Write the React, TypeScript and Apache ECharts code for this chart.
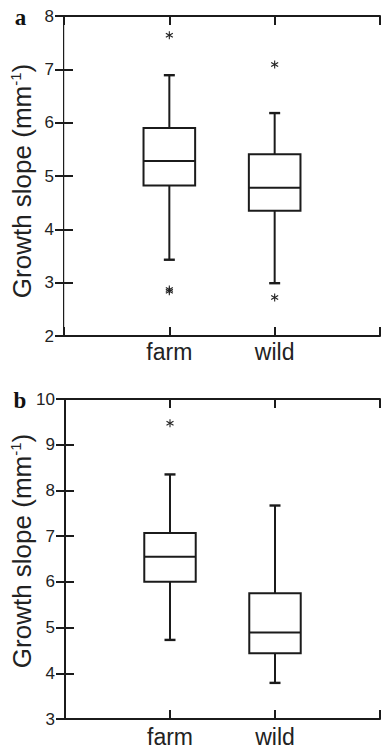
import React, { useEffect, useRef } from "react";
import * as echarts from "echarts";

// ---- data ----
const categories = ["farm", "wild"];
// [lower whisker, Q1, median, Q3, upper whisker]
const panelABoxes = [
  [3.43, 4.82, 5.28, 5.9, 6.89],
  [2.99, 4.35, 4.78, 5.41, 6.18],
];
const panelAOutliers: [string, number][] = [
  ["farm", 7.64],
  ["farm", 2.87],
  ["farm", 2.84],
  ["wild", 7.09],
  ["wild", 2.72],
];
const panelBBoxes = [
  [4.73, 6.0, 6.55, 7.07, 8.35],
  [3.79, 4.44, 4.89, 5.75, 7.67],
];
const panelBOutliers: [string, number][] = [["farm", 9.47]];
const panelAYRange = [2, 8];
const panelBYRange = [3, 10];
const yTitle = "Growth slope (mm{sup|-1})";
const panelLabels = ["a", "b"];

const INK = "#1b1b1b";
const SANS = "'Liberation Sans', Arial, Helvetica, sans-serif";
const SERIF = "'Liberation Serif', 'Times New Roman', serif";

function renderBox(params: any, api: any) {
  const x = api.value(0);
  const low = api.coord([x, api.value(1)]);
  const q1 = api.coord([x, api.value(2)]);
  const med = api.coord([x, api.value(3)]);
  const q3 = api.coord([x, api.value(4)]);
  const high = api.coord([x, api.value(5)]);
  const half = api.size([0.245, 0])[0];
  const cap = 5.5;
  const cx = low[0];
  const ls = { stroke: INK, lineWidth: 2, fill: null };
  return {
    type: "group",
    children: [
      { type: "line", shape: { x1: cx, y1: q3[1], x2: cx, y2: high[1] }, style: ls },
      { type: "line", shape: { x1: cx, y1: q1[1], x2: cx, y2: low[1] }, style: ls },
      { type: "line", shape: { x1: cx - cap, y1: high[1], x2: cx + cap, y2: high[1] }, style: { ...ls, lineWidth: 2.4 } },
      { type: "line", shape: { x1: cx - cap, y1: low[1], x2: cx + cap, y2: low[1] }, style: { ...ls, lineWidth: 2.4 } },
      {
        type: "rect",
        shape: { x: cx - half, y: q3[1], width: 2 * half, height: q1[1] - q3[1] },
        style: { stroke: INK, lineWidth: 2, fill: "#ffffff" },
      },
      { type: "line", shape: { x1: cx - half, y1: med[1], x2: cx + half, y2: med[1] }, style: ls },
    ],
  };
}

function renderStar(params: any, api: any) {
  const p = api.coord([api.value(0), api.value(1)]);
  const s = { stroke: "#222", lineWidth: 1.1 };
  return {
    type: "group",
    children: [
      { type: "line", shape: { x1: p[0], y1: p[1] - 4, x2: p[0], y2: p[1] + 4 }, style: s },
      { type: "line", shape: { x1: p[0] - 3.5, y1: p[1] - 2, x2: p[0] + 3.5, y2: p[1] + 2 }, style: s },
      { type: "line", shape: { x1: p[0] - 3.5, y1: p[1] + 2, x2: p[0] + 3.5, y2: p[1] - 2 }, style: s },
    ],
  };
}

function xAxes(gridIndex: number, labelMargin: number) {
  const common = {
    type: "value",
    gridIndex,
    min: 0,
    max: 3,
    interval: 1,
    splitLine: { show: false },
    axisLine: { show: true, lineStyle: { color: INK, width: 2 } },
    axisTick: { show: true, inside: true, length: 9, lineStyle: { color: INK, width: 2 } },
  };
  return [
    {
      ...common,
      position: "bottom",
      axisLabel: {
        show: true,
        margin: labelMargin,
        color: "#222",
        fontFamily: SANS,
        fontSize: 23,
        formatter: (v: number) => (v >= 1 && v <= categories.length ? categories[v - 1] : ""),
      },
    },
    { ...common, position: "top", axisLabel: { show: false } },
  ];
}

function yAxes(gridIndex: number, range: number[], rightLine: any) {
  const common = {
    type: "value",
    gridIndex,
    min: range[0],
    max: range[1],
    interval: 1,
    splitLine: { show: false },
    axisLine: { show: true, lineStyle: { color: INK, width: 2 } },
    axisTick: { show: true, inside: true, length: 9, lineStyle: { color: INK, width: 2 } },
  };
  return [
    {
      ...common,
      position: "left",
      axisLabel: {
        show: true,
        margin: 10,
        color: "#222",
        fontFamily: SANS,
        fontSize: 17,
        padding: [5, 0, 0, 0],
      },
    },
    { ...common, position: "right", axisLine: rightLine, axisLabel: { show: false } },
  ];
}

function titleText(x: number, y: number) {
  return {
    type: "text",
    x,
    y,
    rotation: Math.PI / 2,
    style: {
      text: yTitle,
      fill: "#222",
      fontFamily: SANS,
      fontSize: 26,
      lineHeight: 29,
      align: "center",
      verticalAlign: "middle",
      rich: {
        sup: { fontSize: 15, lineHeight: 15, verticalAlign: "top", fill: "#222", fontFamily: SANS },
      },
    },
  };
}

function panelLabel(text: string, x: number, y: number) {
  return {
    type: "text",
    x,
    y,
    style: {
      text,
      fill: "#111",
      fontFamily: SERIF,
      fontSize: 23,
      fontWeight: "bold",
      align: "center",
      verticalAlign: "middle",
    },
  };
}

export default function App() {
  const ref = useRef<HTMLDivElement>(null);
  useEffect(() => {
    if (!ref.current) return;
    const chart = echarts.init(ref.current, undefined, { renderer: "svg" });
    const toXY = (list: [string, number][]) => list.map(([c, v]) => [categories.indexOf(c) + 1, v]);
    const toBox = (boxes: number[][]) => boxes.map((b, i) => [i + 1, ...b]);
    chart.setOption({
      animation: false,
      backgroundColor: "#ffffff",
      grid: [
        { left: 64, top: 16, width: 318.5, height: 320 },
        { left: 65, top: 399, width: 321, height: 320 },
      ],
      xAxis: [...xAxes(0, 4), ...xAxes(1, 6)],
      yAxis: [
        ...yAxes(0, panelAYRange, { show: true, lineStyle: { color: "#d0d0d0", width: 1 } }),
        ...yAxes(1, panelBYRange, { show: false }),
      ],
      series: [
        {
          type: "custom",
          xAxisIndex: 0,
          yAxisIndex: 0,
          renderItem: renderBox,
          encode: { x: 0, y: [1, 2, 3, 4, 5] },
          data: toBox(panelABoxes),
          z: 3,
        },
        {
          type: "custom",
          xAxisIndex: 0,
          yAxisIndex: 0,
          renderItem: renderStar,
          encode: { x: 0, y: 1 },
          data: toXY(panelAOutliers),
          z: 3,
        },
        {
          type: "custom",
          xAxisIndex: 2,
          yAxisIndex: 2,
          renderItem: renderBox,
          encode: { x: 0, y: [1, 2, 3, 4, 5] },
          data: toBox(panelBBoxes),
          z: 3,
        },
        {
          type: "custom",
          xAxisIndex: 2,
          yAxisIndex: 2,
          renderItem: renderStar,
          encode: { x: 0, y: 1 },
          data: toXY(panelBOutliers),
          z: 3,
        },
      ],
      graphic: [
        titleText(22, 181),
        titleText(22, 551),
        panelLabel(panelLabels[0], 20.5, 17),
        panelLabel(panelLabels[1], 20, 400),
      ],
    });
    return () => chart.dispose();
  }, []);
  return (
    <div
      ref={ref}
      style={{ position: "fixed", left: 0, top: 0, width: 383, height: 750, background: "#fff" }}
    />
  );
}
